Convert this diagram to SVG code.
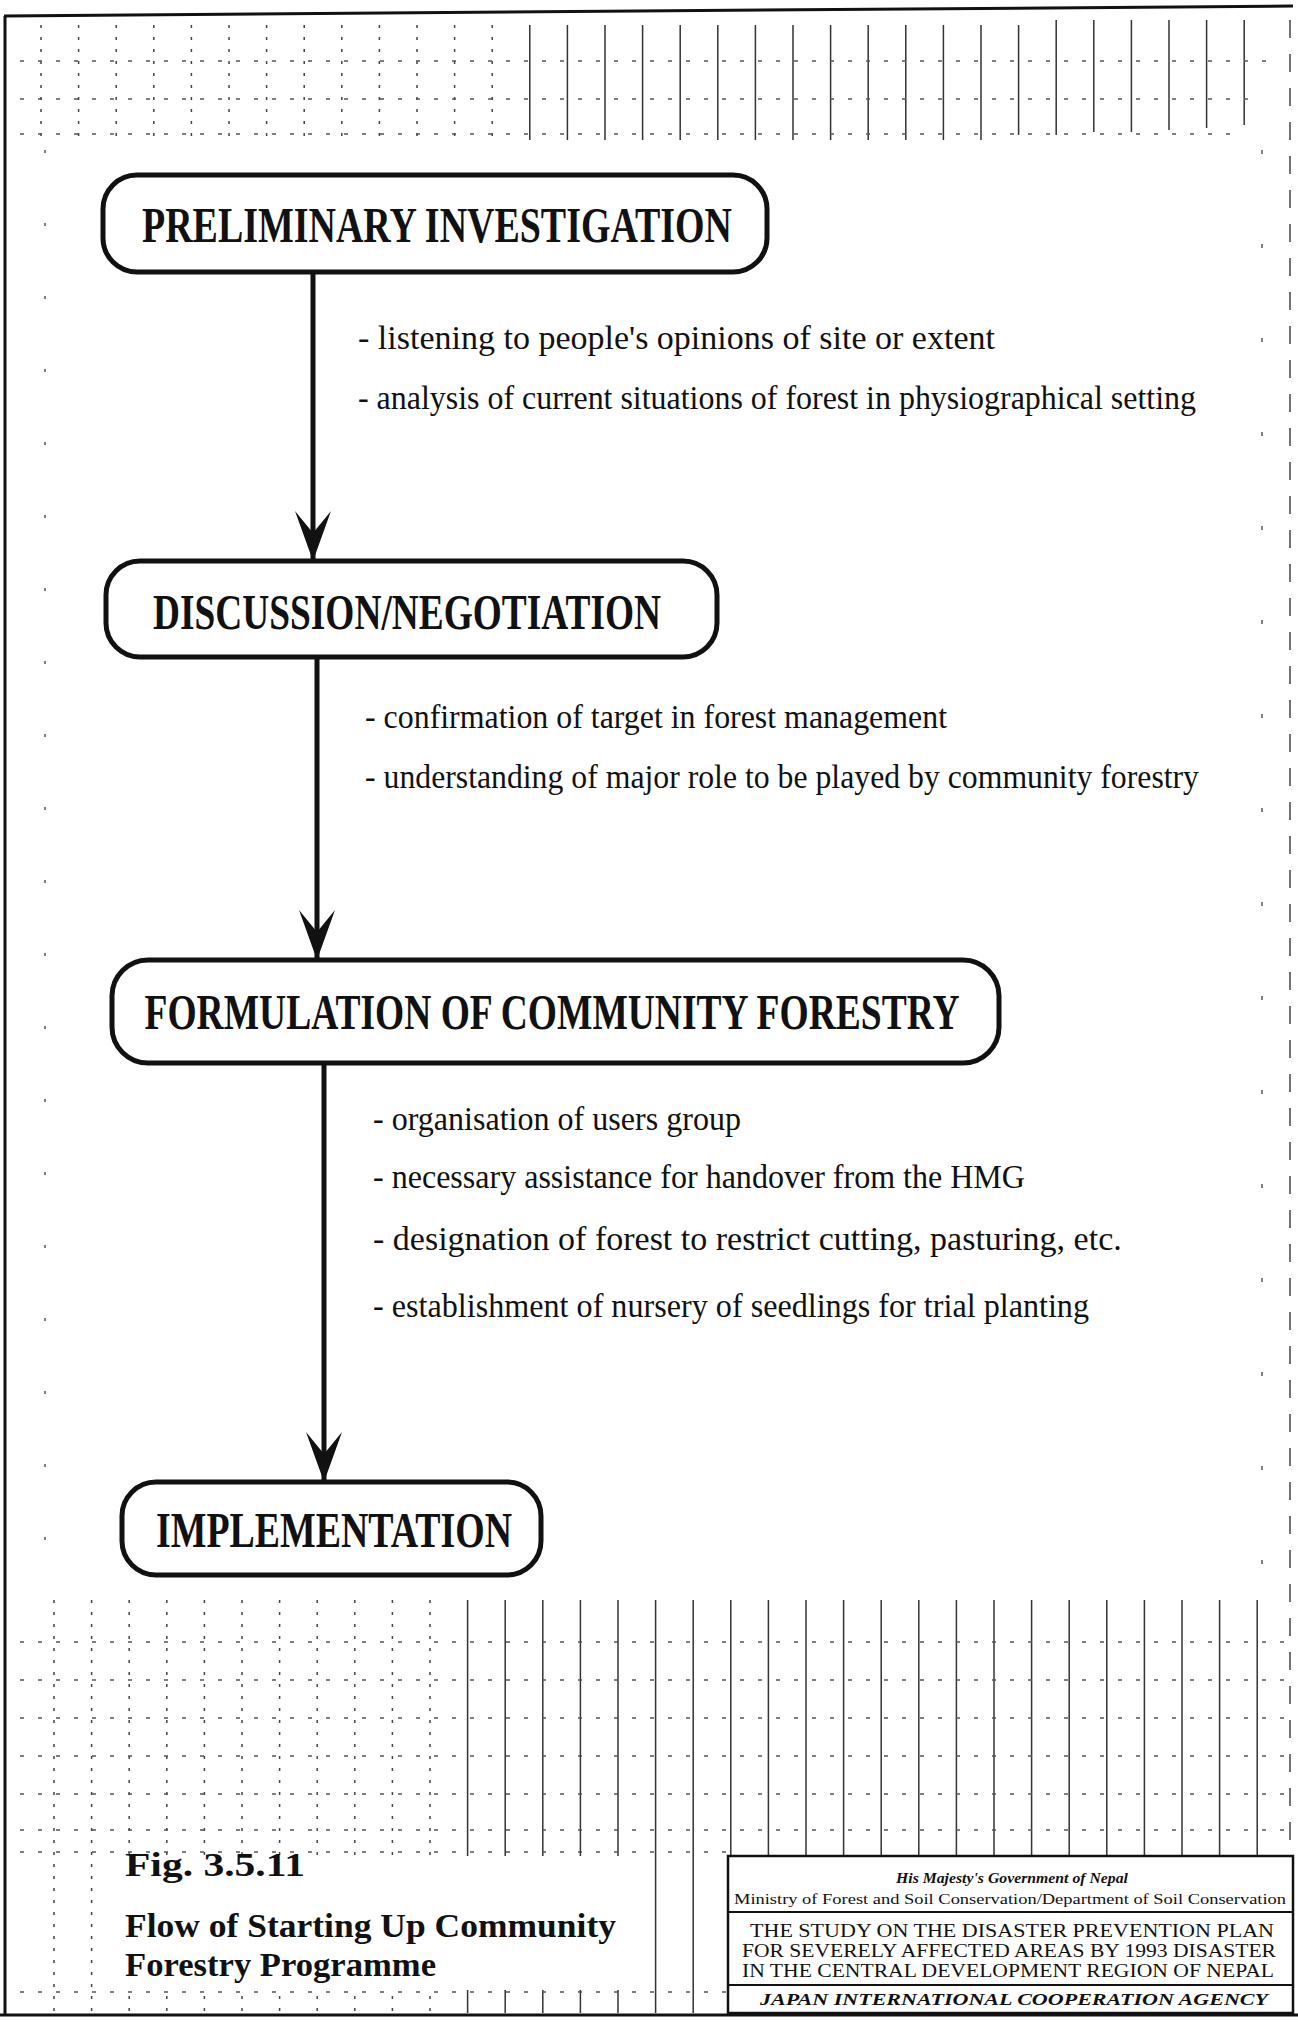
<svg xmlns="http://www.w3.org/2000/svg" width="1298" height="2022" viewBox="0 0 1298 2022">
  <style>
    .box { fill: #fff; stroke: #111; stroke-width: 5; }
    .title { font-family: "Liberation Serif", "Times New Roman", serif; font-size: 50px; font-weight: bold; fill: #111; text-anchor: middle; }
    .bul { font-family: "Liberation Serif", "Times New Roman", serif; font-size: 34px; fill: #111; }
    .cap { font-family: "Liberation Serif", "Times New Roman", serif; font-size: 33px; font-weight: bold; fill: #111; }
    .tb { font-family: "Liberation Serif", "Times New Roman", serif; fill: #111; text-anchor: middle; }
    .conn { stroke: #111; stroke-width: 5; fill: none; }
    .gs { stroke: #333; stroke-width: 1.5; fill: none; }
    .gd { stroke: #444; stroke-width: 1.5; fill: none; stroke-dasharray: 3 9; }
    .gh { stroke: #555; stroke-width: 1.3; fill: none; stroke-dasharray: 4 14; }
  </style>
  <defs>
    <marker id="ah" viewBox="0 0 50 36" refX="50" refY="18" markerWidth="50" markerHeight="36" markerUnits="userSpaceOnUse" orient="auto">
      <path d="M50,18 L0,0 L22,18 L0,36 Z" fill="#111"/>
    </marker>
  </defs>
  <rect x="0" y="0" width="1298" height="2022" fill="#fff"/>

  <g id="background-grid">
    <path d="M4,16 L1293,6" stroke="#111" stroke-width="3" fill="none"/>
    <path d="M5,16 V2016" stroke="#111" stroke-width="3" fill="none"/>
    <path d="M0,2015 H1298" stroke="#111" stroke-width="3" fill="none"/>
    <path d="M1290,20 V1856" stroke="#444" stroke-width="1.5" fill="none" stroke-dasharray="18 16"/>
    <!-- top band -->
    <path class="gd" d="M41,25 V140 M78.6,25 V140 M116.2,25 V140 M153.8,25 V140 M191.4,25 V140 M229,25 V140 M266.6,25 V140 M304.2,25 V140 M341.8,25 V140 M379.4,25 V140 M417,25 V140 M454.6,25 V140 M492.2,25 V140"/>
    <path class="gs" d="M529.8,25 V140 M567.4,25 V140 M605,25 V140 M642.6,25 V140 M680.2,25 V140 M717.8,25 V140 M755.4,25 V140 M793,25 V140 M830.6,25 V140 M868.2,25 V140 M905.8,25 V140 M943.4,25 V140 M981,25 V140 M1018.6,25 V135 M1056.2,20 V135 M1093.8,20 V132 M1131.4,20 V132 M1169,20 V130 M1206.6,20 V128 M1244.2,20 V125"/>
    <path class="gh" d="M20,61 H1270 M20,99 H1260 M20,134 H1240"/>
    <!-- middle sparse grid -->
    <path d="M45,150 V1590" stroke="#555" stroke-width="1.5" fill="none" stroke-dasharray="3 70"/>
    <path d="M1262,150 V1590" stroke="#555" stroke-width="1.5" fill="none" stroke-dasharray="4 90"/>
    <!-- bottom band -->
    <path class="gd" d="M54,1600 V2013 M91.6,1600 V2013 M129.2,1600 V2013 M166.8,1600 V2013 M204.4,1600 V2013 M242,1600 V2013 M279.6,1600 V2013 M317.2,1600 V2013 M354.8,1600 V2013 M392.4,1600 V2013 M430,1600 V2013"/>
    <path class="gs" d="M467.6,1600 V2013 M505.2,1600 V2013 M542.8,1600 V2013 M580.4,1600 V2013 M618,1600 V2013 M655.6,1600 V2013 M693.2,1600 V2013 M730.8,1600 V1856 M768.4,1600 V1856 M806,1600 V1856 M843.6,1600 V1856 M881.2,1600 V1856 M918.8,1600 V1856 M956.4,1600 V1856 M994,1600 V1856 M1031.6,1600 V1856 M1069.2,1600 V1856 M1106.8,1600 V1856 M1144.4,1600 V1856 M1182,1600 V1856 M1219.6,1600 V1856 M1257.2,1600 V1856"/>
    <path class="gh" d="M20,1642 H1290 M20,1680 H1290 M20,1718 H1290 M20,1756 H1290 M20,1794 H1290 M20,1830 H1290 M20,1852 H728 M20,1992 H728"/>
    <rect x="106" y="1856" width="534" height="134" fill="#fff"/>
  </g>

  <g id="connectors">
    <path class="conn" d="M313,272 V561" marker-end="url(#ah)"/>
    <path class="conn" d="M317,657 V960" marker-end="url(#ah)"/>
    <path class="conn" d="M324,1063 V1482" marker-end="url(#ah)"/>
  </g>

  <g id="node-preliminary">
    <rect class="box" x="103" y="175" width="664" height="97" rx="34"/>
    <text class="title" x="437" y="242" textLength="590" lengthAdjust="spacingAndGlyphs">PRELIMINARY INVESTIGATION</text>
  </g>
  <g id="notes-preliminary">
    <text class="bul" x="358" y="349">- listening to people's opinions of site or extent</text>
    <text class="bul" x="358" y="409" textLength="838" lengthAdjust="spacingAndGlyphs">- analysis of current situations of forest in physiographical setting</text>
  </g>

  <g id="node-discussion">
    <rect class="box" x="106" y="561" width="611" height="96" rx="34"/>
    <text class="title" x="407" y="629" textLength="508" lengthAdjust="spacingAndGlyphs">DISCUSSION/NEGOTIATION</text>
  </g>
  <g id="notes-discussion">
    <text class="bul" x="365" y="728" textLength="582" lengthAdjust="spacingAndGlyphs">- confirmation of target in forest management</text>
    <text class="bul" x="365" y="788" textLength="834" lengthAdjust="spacingAndGlyphs">- understanding of major role to be played by community forestry</text>
  </g>

  <g id="node-formulation">
    <rect class="box" x="112" y="960" width="887" height="103" rx="36"/>
    <text class="title" x="552" y="1029" textLength="815" lengthAdjust="spacingAndGlyphs">FORMULATION OF COMMUNITY FORESTRY</text>
  </g>
  <g id="notes-formulation">
    <text class="bul" x="373" y="1130" textLength="368" lengthAdjust="spacingAndGlyphs">- organisation of users group</text>
    <text class="bul" x="373" y="1188" textLength="652" lengthAdjust="spacingAndGlyphs">- necessary assistance for handover from the HMG</text>
    <text class="bul" x="373" y="1250">- designation of forest to restrict cutting, pasturing, etc.</text>
    <text class="bul" x="373" y="1317" textLength="716" lengthAdjust="spacingAndGlyphs">- establishment of nursery of seedlings for trial planting</text>
  </g>

  <g id="node-implementation">
    <rect class="box" x="122" y="1482" width="419" height="93" rx="34"/>
    <text class="title" x="334" y="1547" textLength="356" lengthAdjust="spacingAndGlyphs">IMPLEMENTATION</text>
  </g>

  <g id="caption">
    <text class="cap" x="125" y="1876" textLength="180" lengthAdjust="spacingAndGlyphs">Fig. 3.5.11</text>
    <text class="cap" x="125" y="1937" textLength="491" lengthAdjust="spacingAndGlyphs">Flow of Starting Up Community</text>
    <text class="cap" x="125" y="1976" textLength="311" lengthAdjust="spacingAndGlyphs">Forestry Programme</text>
  </g>

  <g id="title-block">
    <rect x="728" y="1856" width="565" height="157" fill="#fff" stroke="#111" stroke-width="2.5"/>
    <path d="M728,1912 H1293 M728,1985 H1293" stroke="#111" stroke-width="2" fill="none"/>
    <text class="tb" x="1012" y="1883" font-size="15" font-style="italic" font-weight="bold" textLength="232" lengthAdjust="spacingAndGlyphs">His Majesty's Government of Nepal</text>
    <text class="tb" x="1010" y="1904" font-size="15" textLength="552" lengthAdjust="spacingAndGlyphs">Ministry of Forest and Soil Conservation/Department of Soil Conservation</text>
    <text class="tb" x="1012" y="1937" font-size="19" textLength="524" lengthAdjust="spacingAndGlyphs">THE STUDY ON THE DISASTER PREVENTION PLAN</text>
    <text class="tb" x="1009" y="1957" font-size="19" textLength="534" lengthAdjust="spacingAndGlyphs">FOR SEVERELY AFFECTED AREAS BY 1993 DISASTER</text>
    <text class="tb" x="1008" y="1977" font-size="19" textLength="532" lengthAdjust="spacingAndGlyphs">IN THE CENTRAL DEVELOPMENT REGION OF NEPAL</text>
    <text class="tb" x="1014" y="2005" font-size="17" font-style="italic" font-weight="bold" textLength="508" lengthAdjust="spacingAndGlyphs">JAPAN INTERNATIONAL COOPERATION AGENCY</text>
  </g>
</svg>
